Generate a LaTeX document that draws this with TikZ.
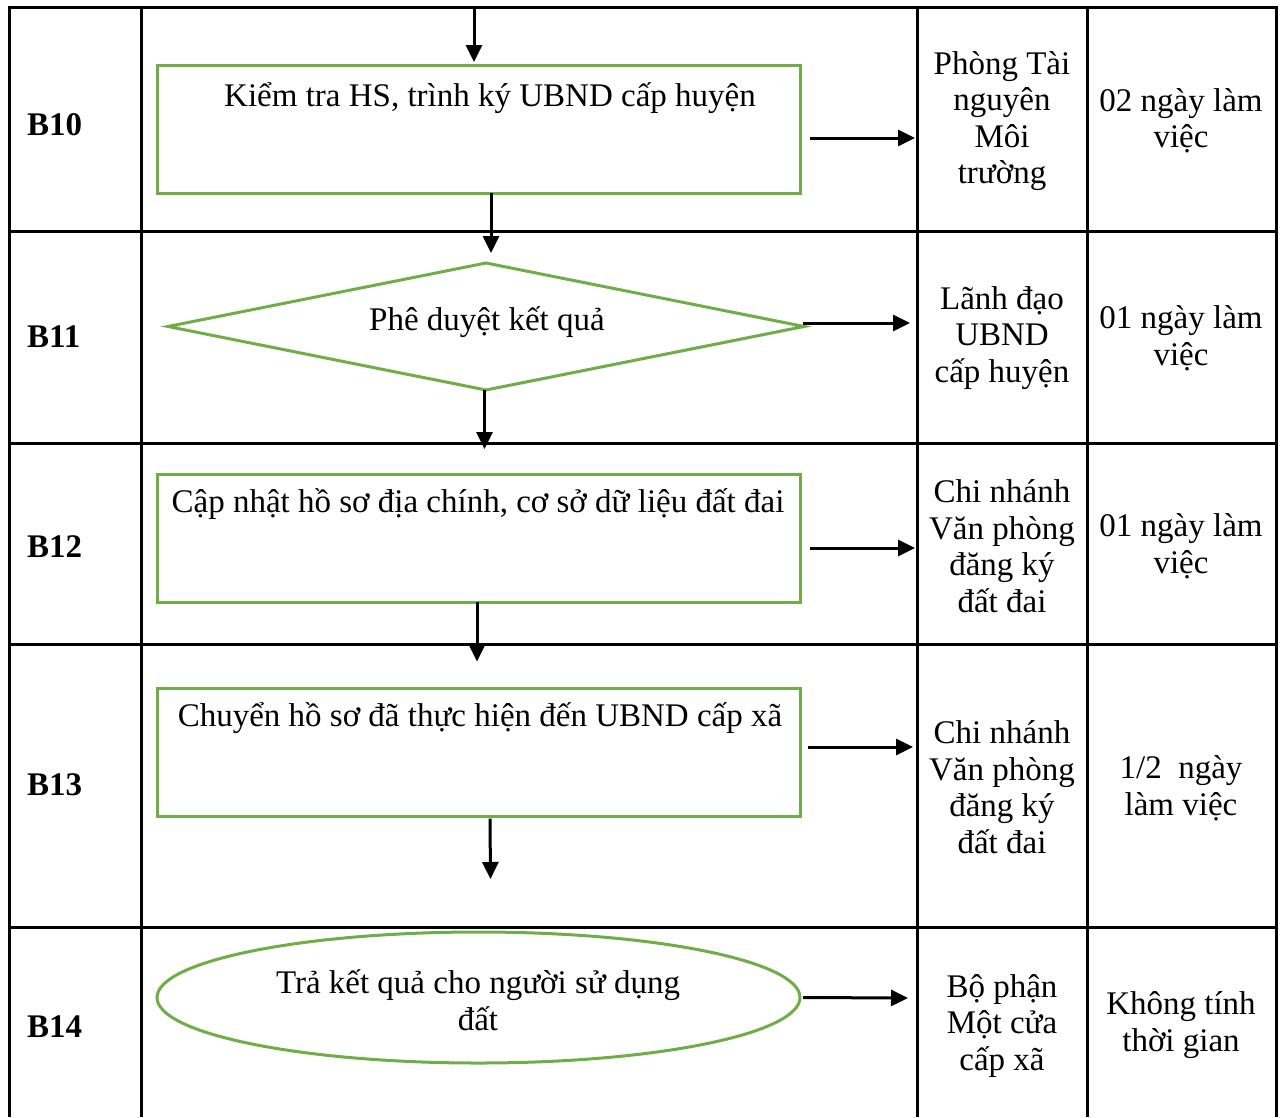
\documentclass[tikz,border=0pt]{standalone}
\usepackage{fontspec}
\setmainfont{Liberation Serif}
\usetikzlibrary{arrows.meta,shapes.geometric}
\definecolor{boxgreen}{HTML}{70AD47}
\begin{document}
\begin{tikzpicture}[x=1pt,y=-1pt,
  grid/.style={line width=3pt,black},
  shapebox/.style={draw=boxgreen,line width=3pt,inner sep=0pt,outer sep=0pt},
  procbox/.style={shapebox,rectangle,minimum width=643pt,minimum height=128pt},
  decbox/.style={shapebox,diamond,minimum width=636pt,minimum height=127pt},
  endbox/.style={shapebox,ellipse,minimum width=643pt,minimum height=131pt},
  txt/.style={font=\fontsize{33}{36.5}\selectfont,inner sep=0pt,align=center},
  steplabel/.style={font=\fontsize{33}{36.5}\selectfont\bfseries,inner sep=0pt,anchor=west},
  arr/.style={-{Triangle[length=17pt,width=16pt]},line width=3pt,black}]
\useasboundingbox (0,0) rectangle (1281,1117);
% table grid
\foreach \x in {9,141,917,1087,1276} \draw[grid] (\x,5.5) -- (\x,1117);
\foreach \y in {7,231,443,644,927} \draw[grid] (7.5,\y) -- (1277.5,\y);
% step labels
\node[steplabel] (s10) at (27,125) {B10};
\node[steplabel] (s11) at (27,337) {B11};
\node[steplabel] (s12) at (27,547) {B12};
\node[steplabel] (s13) at (27,785) {B13};
\node[steplabel] (s14) at (27,1027) {B14};
% flow shapes
\node[procbox] (b10) at (478.5,129) {};
\node[txt,anchor=base] (t10) at (490,106) {Kiểm tra HS, trình ký UBND cấp huyện};
\node[decbox] (d11) at (486,326.5) {};
\node[txt,anchor=base] (t11) at (487,330) {Phê duyệt kết quả};
\node[procbox] (b12) at (478.5,538) {};
\node[txt,anchor=base] (t12) at (478,512) {Cập nhật hồ sơ địa chính, cơ sở dữ liệu đất đai};
\node[procbox] (b13) at (478.5,752.5) {};
\node[txt,anchor=base] (t13) at (480,726) {Chuyển hồ sơ đã thực hiện đến UBND cấp xã};
\node[endbox] (e14) at (478.5,997.5) {};
\node[txt] (t14) at (478,1000) {Trả kết quả cho người sử dụng\\đất};
% responsible units
\node[txt] (p10) at (1002,121) {Phòng Tài\\nguyên\\Môi\\trường};
\node[txt] (p11) at (1002,338) {Lãnh đạo\\UBND\\cấp huyện};
\node[txt] (p12) at (1002,546) {Chi nhánh\\Văn phòng\\đăng ký\\đất đai};
\node[txt] (p13) at (1002,787) {Chi nhánh\\Văn phòng\\đăng ký\\đất đai};
\node[txt] (p14) at (1002,1026) {Bộ phận\\Một cửa\\cấp xã};
% durations
\node[txt] (q10) at (1181,121) {02 ngày làm\\việc};
\node[txt] (q11) at (1181,338) {01 ngày làm\\việc};
\node[txt] (q12) at (1181,546) {01 ngày làm\\việc};
\node[txt] (q13) at (1181,788) {1/2~ ngày\\làm việc};
\node[txt] (q14) at (1181,1025) {Không tính\\thời gian};
% connector ends
\coordinate (t0) at (474,7);
\coordinate (r10) at (915,138);
\coordinate (r11) at (910,323);
\coordinate (r12) at (915,548);
\coordinate (r13) at (913,747);
\coordinate (r14) at (908,998);
% connectors
\draw[arr] (t0) -- ([shift={(-4.5,-3)}]b10.north);
\draw[arr] ([shift={(10,9)}]b10.east) -- (r10);
\draw[arr] ([xshift=12.5]b10.south) -- ([shift={(5,-10)}]d11.north);
\draw[arr] ([shift={(-1,-3.5)}]d11.east) -- (r11);
\draw[arr] ([xshift=-1.5]d11.south) -- ([shift={(6,-25)}]b12.north);
\draw[arr] ([shift={(10,10)}]b12.east) -- (r12);
\draw[arr] ([xshift=-1.5]b12.south) -- ([shift={(-1.5,-27)}]b13.north);
\draw[arr] ([shift={(8,-5.5)}]b13.east) -- (r13);
\draw[arr] ([shift={(11.5,2)}]b13.south) -- ([shift={(12,-53)}]e14.north);
\draw[arr] ([xshift=3]e14.east) -- (r14);
\end{tikzpicture}
\end{document}
